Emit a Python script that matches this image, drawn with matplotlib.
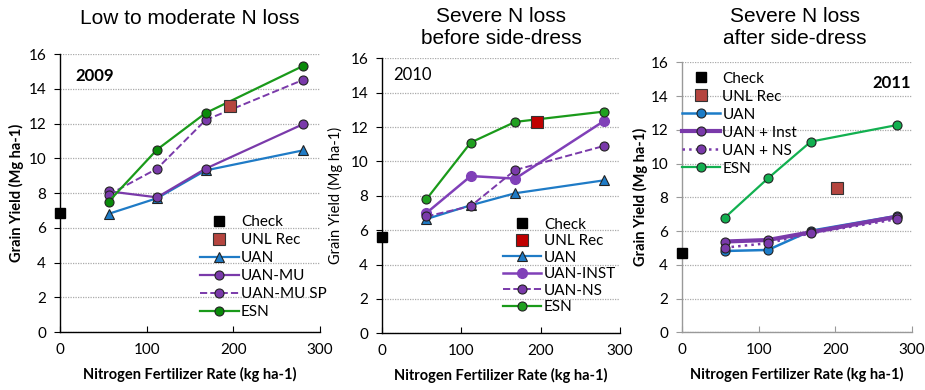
import matplotlib
matplotlib.use("Agg")
import matplotlib.pyplot as plt

# 施肥量 (kg ha-1)
rates = [56, 112, 168, 280]

# 2009 低到中度氮損失
check_2009 = 6.85
unl_2009 = (196, 13.0)
uan_2009 = [6.8, 7.7, 9.3, 10.45]
uan_mu_2009 = [8.1, 7.75, 9.4, 11.95]
uan_mu_sp_2009 = [7.9, 9.4, 12.2, 14.5]
esn_2009 = [7.5, 10.5, 12.6, 15.3]

# 2010 嚴重氮損失(追肥前)
check_2010 = 5.6
unl_2010 = (196, 12.3)
uan_2010 = [6.65, 7.45, 8.15, 8.9]
uan_inst_2010 = [7.0, 9.15, 9.0, 12.35]
uan_ns_2010 = [6.8, 7.4, 9.5, 10.9]
esn_2010 = [7.8, 11.1, 12.3, 12.9]

# 2011 嚴重氮損失(追肥後)
check_2011 = 4.7
unl_2011 = (202, 8.55)
uan_2011 = [4.82, 4.88, 6.02, 6.9]
uan_inst_2011 = [5.38, 5.47, 5.93, 6.85]
uan_ns_2011 = [5.02, 5.28, 5.87, 6.7]
esn_2011 = [6.8, 9.12, 11.3, 12.28]

plt.rcParams["font.family"] = ["Lato", "DejaVu Sans"]
plt.rcParams["font.size"] = 10

blue = "#1f7bc6"
purple = "#7a3aaa"
green1 = "#1a9a1a"
green3 = "#12b050"

fig = plt.figure(figsize=(9.25, 3.9), dpi=100)
ax1 = fig.add_axes([0.0649, 0.1487, 0.281, 0.7128])
ax2 = fig.add_axes([0.413, 0.1453, 0.257, 0.7052])
ax3 = fig.add_axes([0.7373, 0.1479, 0.2487, 0.6923])


def base_axes(ax, spine_color):
    ax.set_xlim(0, 300)
    ax.set_ylim(0, 16)
    ax.set_xticks([0, 100, 200, 300])
    ax.set_yticks(range(0, 17, 2))
    ax.yaxis.grid(True, linestyle=(0, (1, 1)), color="#aaaaaa", linewidth=0.9)
    ax.set_axisbelow(True)
    for s in ["top", "right"]:
        ax.spines[s].set_visible(False)
    for s in ["left", "bottom"]:
        ax.spines[s].set_color(spine_color)
        ax.spines[s].set_linewidth(1.0)
    ax.tick_params(axis="x", direction="in", length=4, pad=8, labelsize=11,
                   color=spine_color)
    ax.tick_params(axis="y", direction="out", length=4, pad=6, labelsize=11,
                   color=spine_color)
    ax.set_xlabel("Nitrogen Fertilizer Rate (kg ha-1)", fontweight="bold",
                  fontsize=10.5, labelpad=7)


mk = dict(markersize=6.5, markeredgecolor="#222222", markeredgewidth=0.8)
leg = dict(loc="upper left", frameon=False, borderpad=0, handlelength=2.5,
           handletextpad=0.15, fontsize=11, borderaxespad=0)

# 2009
base_axes(ax1, "black")
ax1.plot([0], [check_2009], "s", color="black", markersize=6.5, label="Check",
         clip_on=False, zorder=5)
ax1.plot([unl_2009[0]], [unl_2009[1]], "s", color="#b5453f", markersize=8.5,
         markeredgecolor="#333333", markeredgewidth=0.8, label="UNL Rec", zorder=5)
ax1.plot(rates, uan_2009, "-^", color=blue, lw=1.6, markerfacecolor=blue, label="UAN", **mk)
ax1.plot(rates, uan_mu_2009, "-o", color=purple, lw=1.6, markerfacecolor=purple, label="UAN-MU", **mk)
ax1.plot(rates, uan_mu_sp_2009, "--o", color=purple, lw=1.4, markerfacecolor=purple, label="UAN-MU SP", **mk)
ax1.plot(rates, esn_2009, "-o", color=green1, lw=1.6, markerfacecolor="#0a8a0a", label="ESN", **mk)
ax1.set_ylabel("Grain Yield (Mg ha-1)", fontweight="bold", fontsize=10.5, labelpad=3)
ax1.text(0.058, 0.92, "2009", transform=ax1.transAxes, fontweight="bold",
         fontsize=12, va="center")
ax1.legend(bbox_to_anchor=(0.54, 0.42), labelspacing=0.26, **leg)

# 2010
base_axes(ax2, "black")
ax2.plot([0], [check_2010], "s", color="black", markersize=6.5, label="Check",
         clip_on=False, zorder=5)
ax2.plot([unl_2010[0]], [unl_2010[1]], "s", color="#c00000", markersize=9,
         markeredgecolor="#333333", markeredgewidth=0.8, label="UNL Rec", zorder=5)
ax2.plot(rates, uan_2010, "-^", color=blue, lw=1.6, markerfacecolor=blue, label="UAN", **mk)
ax2.plot(rates, uan_inst_2010, "-o", color="#8040b8", lw=1.8, markerfacecolor="#8040b8",
         markeredgecolor="#8040b8", markersize=7, label="UAN-INST")
ax2.plot(rates, uan_ns_2010, "--o", color=purple, lw=1.4, markerfacecolor=purple, label="UAN-NS", **mk)
ax2.plot(rates, esn_2010, "-o", color=green1, lw=1.6, markerfacecolor="#20a020", label="ESN", **mk)
ax2.set_ylabel("Grain Yield (Mg ha-1)", fontsize=10.5, labelpad=5)
ax2.text(0.046, 0.94, "2010", transform=ax2.transAxes, fontsize=12, va="center")
ax2.legend(bbox_to_anchor=(0.51, 0.42), labelspacing=0.16, **leg)

# 2011
base_axes(ax3, "#999999")
ax3.plot([0], [check_2011], "s", color="black", markersize=6.5, label="Check",
         clip_on=False, zorder=5)
ax3.plot([unl_2011[0]], [unl_2011[1]], "s", color="#b5453f", markersize=8.5,
         markeredgecolor="#333333", markeredgewidth=0.8, label="UNL Rec", zorder=5)
ax3.plot(rates, uan_2011, "-o", color="#1c7cc8", lw=1.8, markerfacecolor="#1c7cc8", label="UAN", **mk)
ax3.plot(rates, uan_inst_2011, "-o", color=purple, lw=3.0, markerfacecolor=purple, label="UAN + Inst", **mk)
ax3.plot(rates, uan_ns_2011, ":o", color=purple, lw=1.8, markerfacecolor=purple, label="UAN + NS", **mk)
ax3.plot(rates, esn_2011, "-o", color=green3, lw=1.6, markerfacecolor=green3, label="ESN", **mk)
ax3.set_ylabel("Grain Yield (Mg ha-1)", fontweight="bold", fontsize=10.5, labelpad=2)
ax3.text(0.995, 0.925, "2011", transform=ax3.transAxes, fontweight="bold",
         fontsize=12, va="center", ha="right")
ax3.legend(bbox_to_anchor=(0.0, 0.965), labelspacing=0.26, **leg)

# 標題
title_font = ["Liberation Sans", "DejaVu Sans"]
fig.text(190 / 925, 1 - 19 / 390, "Low to moderate N loss", ha="center", va="center",
         fontsize=15, family=title_font)
fig.text(501 / 925, 1 - 27 / 390, "Severe N loss\nbefore side-dress", ha="center",
         va="center", fontsize=15, family=title_font, linespacing=1.2)
fig.text(795 / 925, 1 - 28 / 390, "Severe N loss\nafter side-dress", ha="center",
         va="center", fontsize=15, family=title_font, linespacing=1.2)

fig.savefig("out.png", dpi=100)
